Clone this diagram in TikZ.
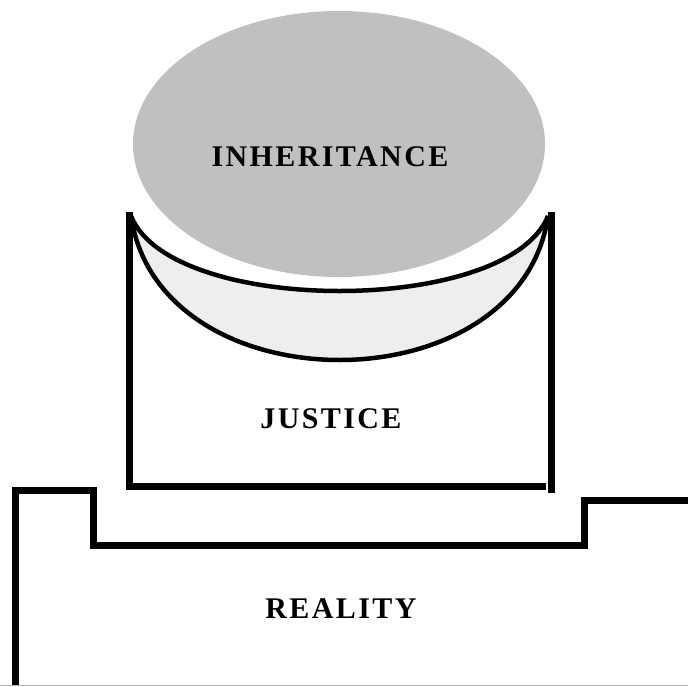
\documentclass[tikz,border=0pt]{standalone}
\usepackage{fontspec}
\setmainfont{Liberation Serif}
\newfontfamily\labelfont{Liberation Serif}[LetterSpace=8]
\usetikzlibrary{shapes.geometric}
\definecolor{domegray}{HTML}{C0C0C0}
\definecolor{bowlgray}{HTML}{EEEEEE}
\tikzset{
  heavy/.style={line width=7pt, line join=miter, line cap=butt},
  rim/.style={line width=4.5pt},
  caption/.style={font=\labelfont\bfseries\fontsize{30}{32}\selectfont, anchor=base, inner sep=0pt}
}
\begin{document}
\begin{tikzpicture}[x=1pt, y=-1pt]
  \useasboundingbox (0,0) rectangle (688,686);

  % the dome
  \node (dome) [ellipse, fill=domegray, minimum width=412pt, minimum height=266pt, inner sep=0pt] at (339,144) {};
  \node (inheritance) [caption] at (330,166) {INHERITANCE};

  % the bowl between the rims
  \coordinate (bl) at (131,216);
  \coordinate (br) at (548,216);
  \fill[bowlgray] (bl) .. controls (171,316) and (508,316) .. (br)
                       .. controls (520,408) and (159,408) .. (bl) -- cycle;
  \draw[rim] (bl) .. controls (171,316) and (508,316) .. (br);
  \draw[rim] (bl) .. controls (159,408) and (520,408) .. (br);

  % the cup
  \draw[heavy] (129,212) -- (129,486) -- (546,486);
  \draw[heavy] (551,212) -- (551,493);
  \node (justice) [caption] at (331,428) {JUSTICE};

  % the ground
  \draw[heavy] (15,686) -- (15,490) -- (93,490) -- (93,545) -- (584,545) -- (584,500) -- (688,500);
  \node (reality) [caption] at (341,618) {REALITY};

  % base line
  \draw[black!30, line width=1pt] (0,685.5) -- (688,685.5);
\end{tikzpicture}
\end{document}
